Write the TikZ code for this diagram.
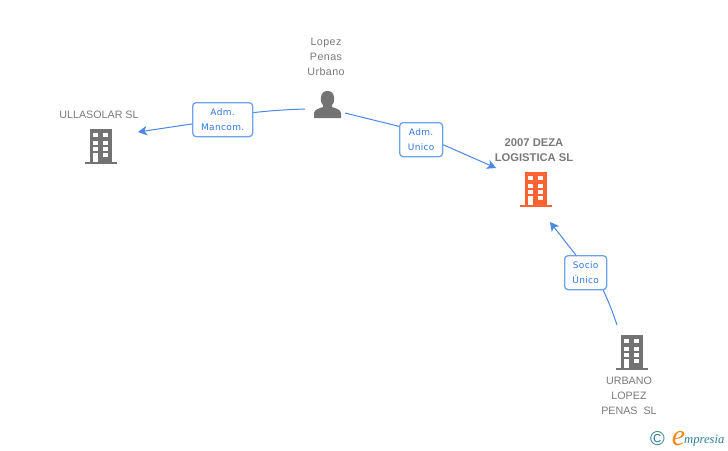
\documentclass[tikz,border=0pt]{standalone}
\usepackage{fontspec}
\setmainfont{Liberation Sans}
\newfontfamily\labelfont[LetterSpace=4]{DejaVu Sans}
\newfontfamily\spacedfont[LetterSpace=4]{Liberation Sans}
\newfontfamily\logofont{Liberation Serif}
\usetikzlibrary{arrows.meta}
\definecolor{greytext}{HTML}{7A7A7A}
\definecolor{icongrey}{HTML}{737373}
\definecolor{iconorange}{HTML}{FF6233}
\definecolor{linkblue}{HTML}{4A88E4}
\definecolor{boxblue}{HTML}{6FA2EC}
\definecolor{labelblue}{HTML}{2F78DC}
\definecolor{logoteal}{HTML}{2F7F96}
\definecolor{logoorange}{HTML}{F08A1D}
\tikzset{
  x=1pt,y=-1pt,
  nametext/.style={text=greytext,font=\fontsize{10.7}{15}\selectfont,align=center,inner sep=0pt},
  spacedtext/.style={text=greytext,font=\spacedfont\fontsize{10.7}{15}\selectfont,align=center,inner sep=0pt},
  boldtext/.style={text=greytext,font=\fontsize{11.2}{15}\selectfont\bfseries,align=center,inner sep=0pt},
  linkbox/.style={draw=boxblue,line width=1.3pt,rounded corners=3.5pt,fill=white,text=labelblue,
    font=\labelfont\fontsize{9}{15}\selectfont,align=center,inner sep=0pt,anchor=north west},
  link/.style={draw=linkblue,line width=1pt},
  linkarrow/.style={link,-{Stealth[length=9pt,width=9.5pt,inset=2.5pt]}},
  pics/building/.style={code={
    \fill[#1] (-11,-17) rectangle (11.3,15.5);
    \fill[#1] (-16,15.5) rectangle (16,17.8);
    \foreach \wy/\wh in {-13/4.3,-5.3/4,0.7/4}{
      \fill[white] (-7.7,\wy) rectangle (-2.7,\wy+\wh);
      \fill[white] (2.3,\wy) rectangle (7.3,\wy+\wh);}
    \fill[white] (2.3,7) rectangle (7.3,11.3);
    \fill[white] (-7.7,7) rectangle (-2.7,15.5);
  }}
}
\begin{document}
\begin{tikzpicture}
\useasboundingbox (0,0) rectangle (728,450);
\fill[white] (0,0) rectangle (728,450);

% text labels
\node[spacedtext] (lopez) at (326,57) {Lopez\\Penas\\Urbano};
\node[nametext] (ulla) at (99,115) {ULLASOLAR SL};
\node[boldtext] (deza) at (534,150) {2007 DEZA\\LOGISTICA SL};
\node[nametext] (urbano) at (629,396) {URBANO\\LOPEZ\\PENAS\ \ SL};

% icons
\pic at (101,146) {building=icongrey};
\pic at (536,189) {building=iconorange};
\pic at (632,352) {building=icongrey};
\fill[icongrey] (314,118) -- (314,113) .. controls (314.5,109.5) and (319,108.5) .. (323,107)
  -- (323,105) .. controls (320.5,102.5) and (320.5,99) .. (321,97)
  .. controls (321.5,93) and (324,91) .. (327.5,91)
  .. controls (331,91) and (333.5,93) .. (334,97)
  .. controls (334.5,99) and (334.5,102.5) .. (332,105)
  -- (332,107) .. controls (336,108.5) and (340.5,109.5) .. (341,113) -- (341,118) -- cycle;

% label boxes
\node[linkbox,minimum width=60pt,minimum height=34pt] (mancom) at (192,102) {Adm.\\Mancom.};
\node[linkbox,minimum width=43pt,minimum height=34pt] (unico) at (399,122) {Adm.\\Unico};
\node[linkbox,minimum width=42pt,minimum height=34pt] (socio) at (564,255) {Socio\\Único};

% connector ends
\coordinate (personleft) at (305,109);
\coordinate (ullatip) at (138,132);
\coordinate (personright) at (345,113);
\coordinate (dezatip) at (496,168);
\coordinate (dezatip2) at (550,222);
\coordinate (urbanotop) at (617,325);

% connectors
\draw[link] (personleft) to[bend right=2] (mancom.13);
\draw[linkarrow] (mancom.188) -- (ullatip);
\draw[link] (personright) -- (unico.149);
\draw[linkarrow] (unico.-13) -- (dezatip);
\draw[link] (urbanotop) to[bend right=3] (socio.-45);
\draw[linkarrow] (socio.119) -- (dezatip2);

% logo
\node[inner sep=0pt,text=logoteal,font=\fontsize{20}{20}\selectfont] (copy) at (657.5,438.5) {©};
\node[inner sep=0pt,anchor=base,text=logoorange,font=\logofont\itshape\fontsize{30}{30}\selectfont] (logoe) at (678.5,445) {e};
\node[inner sep=0pt,anchor=base west,text=logoteal,font=\logofont\itshape\fontsize{12.6}{14}\selectfont] (logotext) at (684,443) {mpresia};
\end{tikzpicture}
\end{document}
